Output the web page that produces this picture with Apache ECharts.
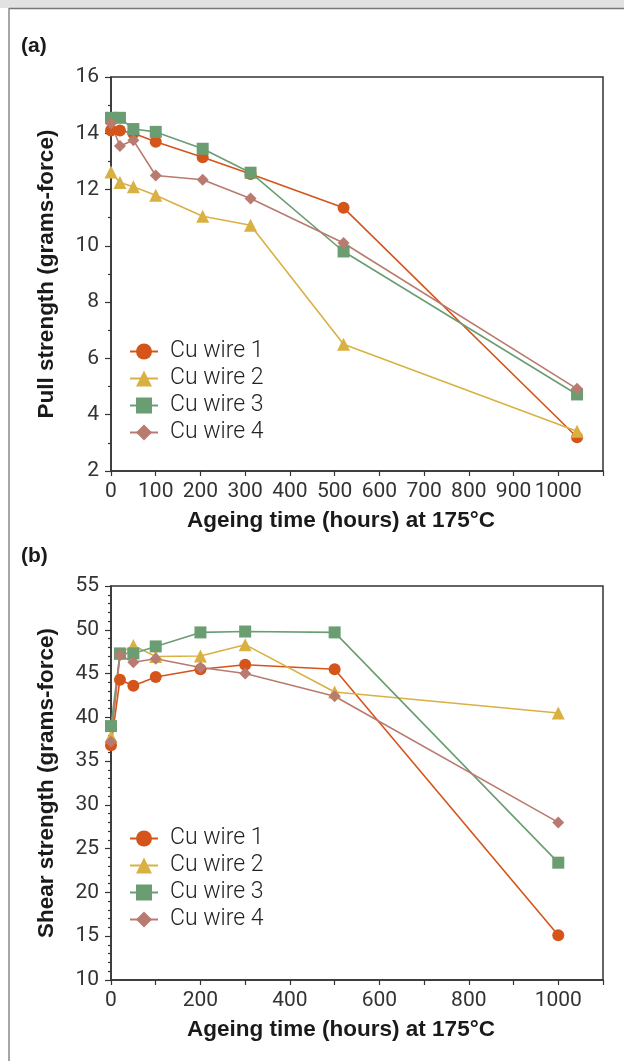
<!DOCTYPE html>
<html>
<head>
<meta charset="utf-8">
<script src="https://cdn.jsdelivr.net/npm/echarts@6/dist/echarts.min.js"></script>
<style>
  html, body { margin: 0; padding: 0; background: #fff; }
  #main { width: 624px; height: 1061px; }
</style>
</head>
<body>
<div id="main"></div>
<script>
var hoursA = [0, 20, 50, 100, 205, 312, 520, 1042];
var pullWire1 = [14.1, 14.1, 14.0, 13.7, 13.15, 12.55, 11.35, 3.2];
var pullWire2 = [12.62, 12.25, 12.1, 11.8, 11.05, 10.73, 6.5, 3.41];
var pullWire3 = [14.55, 14.55, 14.15, 14.05, 13.45, 12.6, 9.8, 4.72];
var pullWire4 = [14.35, 13.55, 13.75, 12.5, 12.35, 11.68, 10.1, 4.92];

var hoursB = [0, 20, 50, 100, 200, 300, 500, 1000];
var shearWire1 = [36.8, 44.3, 43.6, 44.6, 45.5, 46.0, 45.5, 15.1];
var shearWire2 = [37.8, 47.3, 48.2, 46.95, 47.0, 48.3, 42.9, 40.5];
var shearWire3 = [39.0, 47.3, 47.3, 48.1, 49.7, 49.8, 49.7, 23.4];
var shearWire4 = [37.2, 47.1, 46.3, 46.7, 45.7, 45.0, 42.4, 28.0];

var wireNames = ['Cu wire 1', 'Cu wire 2', 'Cu wire 3', 'Cu wire 4'];
var colors = ['#d4541a', '#d9b042', '#6a9e72', '#b97a70'];
var symbols = ['circle', 'triangle', 'rect', 'diamond'];
var symbolSizes = [12, 13, 12, 12];

var dom = document.getElementById('main');
var myChart = echarts.init(dom);

function pairs(xs, ys) {
  return xs.map(function (x, i) { return [x, ys[i]]; });
}

var labelFont = { color: '#333', fontFamily: '"Liberation Sans Narrow", "Roboto"', fontWeight: 'normal', fontSize: 21 };
var nameFont = { color: '#1a1a1a', fontFamily: 'Liberation Sans', fontWeight: 'bold', fontSize: 22.5 };

function xAxisFor(idx, labelStep) {
  return {
    type: 'value', gridIndex: idx, min: 0, max: 1100, interval: 100,
    name: 'Ageing time (hours) at 175°C', nameLocation: 'middle', nameGap: 38,
    nameTextStyle: Object.assign({ padding: [0, 32, 0, 0] }, nameFont),
    axisLine: { onZero: false, lineStyle: { color: '#333', width: 1.5 } },
    axisTick: { length: 5, lineStyle: { color: '#333', width: 1.2 } },
    axisLabel: Object.assign({
      margin: 10,
      formatter: function (v) { return (v % labelStep === 0 && v <= 1000) ? String(v) : ''; }
    }, labelFont),
    splitLine: { show: false }
  };
}

function yAxisFor(idx, min, max, interval, minorSplit, name) {
  return {
    type: 'value', gridIndex: idx, min: min, max: max, interval: interval,
    name: name, nameLocation: 'middle', nameGap: 53, nameTextStyle: nameFont,
    axisLine: { show: true, onZero: false, lineStyle: { color: '#333', width: 1.5 } },
    axisTick: { show: true, length: 6, lineStyle: { color: '#333', width: 1.2 } },
    minorTick: { show: true, splitNumber: minorSplit, length: 3, lineStyle: { color: '#333', width: 1.2 } },
    axisLabel: Object.assign({ margin: 12 }, labelFont),
    splitLine: { show: false }
  };
}

function makeSeries(idx, xs, ys, i) {
  return {
    name: wireNames[i], type: 'line', xAxisIndex: idx, yAxisIndex: idx,
    data: pairs(xs, ys),
    symbol: symbols[i], symbolSize: symbolSizes[i],
    lineStyle: { color: colors[i], width: 1.6 },
    itemStyle: { color: colors[i] },
    animation: false
  };
}

var legendBase = {
  orient: 'vertical', left: 124, itemWidth: 28, itemHeight: 20, itemGap: 4,
  textStyle: { color: '#222', fontFamily: 'Roboto', fontWeight: 300, fontSize: 23, padding: [0, 0, 0, 7] },
  data: wireNames
};

option = {
  backgroundColor: '#fff',
  graphic: [
    { type: 'rect', shape: { x: 0, y: 0, width: 624, height: 8 }, style: { fill: '#e2e2e2' } },
    { type: 'line', shape: { x1: 9, y1: 8.5, x2: 624, y2: 8.5 }, style: { stroke: '#777', lineWidth: 1.5 } },
    { type: 'line', shape: { x1: 9, y1: 8, x2: 9, y2: 1061 }, style: { stroke: '#888', lineWidth: 1.5 } },
    { type: 'text', left: 21, top: 36, style: { text: '(a)', fontSize: 21, fontWeight: 'bold', fontFamily: 'Liberation Sans', fill: '#1a1a1a' } },
    { type: 'text', left: 21, top: 546, style: { text: '(b)', fontSize: 21, fontWeight: 'bold', fontFamily: 'Liberation Sans', fill: '#1a1a1a' } }
  ],
  legend: [
    Object.assign({ top: 335 }, legendBase),
    Object.assign({ top: 822 }, legendBase)
  ],
  grid: [
    { left: 111, top: 77, width: 492, height: 394, show: true, borderColor: '#333', borderWidth: 1.5 },
    { left: 111, top: 586, width: 492, height: 394, show: true, borderColor: '#333', borderWidth: 1.5 }
  ],
  xAxis: [xAxisFor(0, 100), xAxisFor(1, 200)],
  yAxis: [
    yAxisFor(0, 2, 16, 2, 2, 'Pull strength (grams-force)'),
    yAxisFor(1, 10, 55, 5, 5, 'Shear strength (grams-force)')
  ],
  series: [
    makeSeries(0, hoursA, pullWire1, 0),
    makeSeries(0, hoursA, pullWire2, 1),
    makeSeries(0, hoursA, pullWire3, 2),
    makeSeries(0, hoursA, pullWire4, 3),
    makeSeries(1, hoursB, shearWire1, 0),
    makeSeries(1, hoursB, shearWire2, 1),
    makeSeries(1, hoursB, shearWire3, 2),
    makeSeries(1, hoursB, shearWire4, 3)
  ]
};

if (option && typeof option === 'object') {
  myChart.setOption(option, true);
}
</script>
</body>
</html>
